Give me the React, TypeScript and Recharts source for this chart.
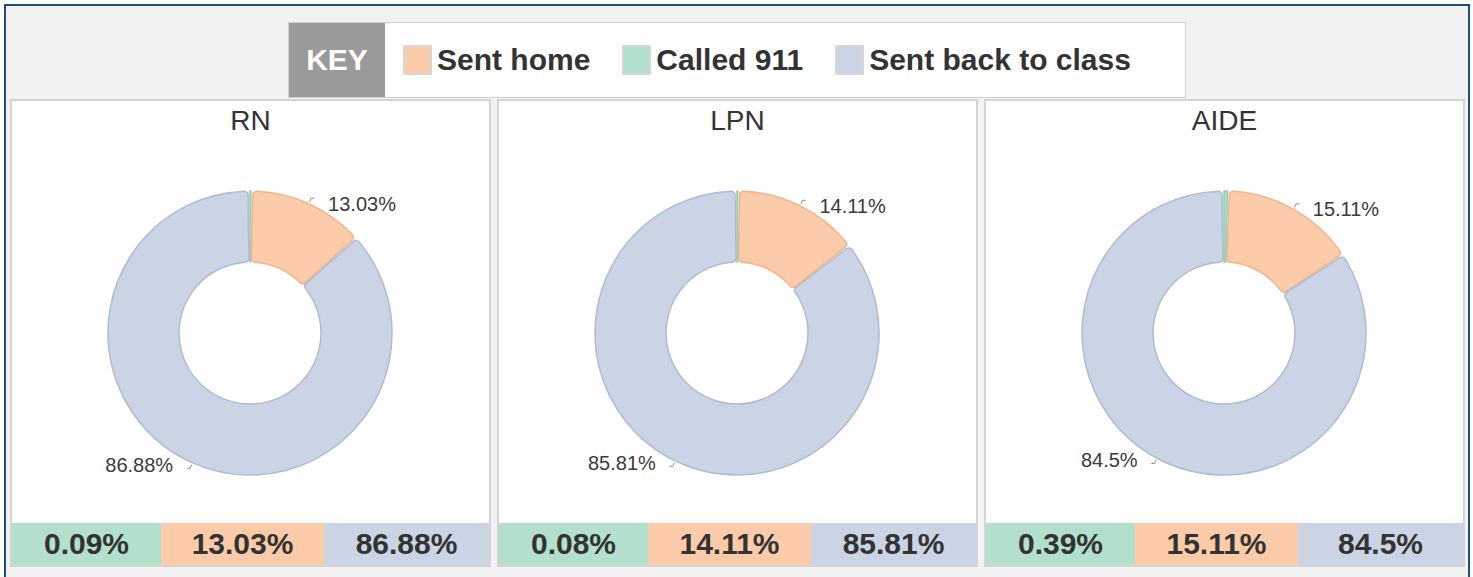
import React from 'react';
import { PieChart, Pie, Cell } from 'recharts';

// Data (percent of visits)
const GROUPS = ['RN', 'LPN', 'AIDE'];
const KEY_LABELS = ['Sent home', 'Called 911', 'Sent back to class'];
const CALLED_911 = [0.09, 0.08, 0.39];
const SENT_HOME = [13.03, 14.11, 15.11];
const SENT_BACK = [86.88, 85.81, 84.5];

// Colours
const GREEN = '#B2E0CC';
const GREEN_LINE = '#93CDB4';
const ORANGE = '#FCCBA9';
const ORANGE_LINE = '#F0B48A';
const BLUE = '#CAD4E5';
const BLUE_LINE = '#AEBBD3';
const INK = '#333333';
const FONT = '"Liberation Sans", Arial, sans-serif';

const KEY_COLORS: Record<string, string> = {
  'Sent home': ORANGE,
  'Called 911': GREEN,
  'Sent back to class': BLUE,
};

const PANEL_X = [10, 497, 984];
const PANEL_W = 481;
const COL_W = [149, 163, 165];

const OUTER = 142;
const INNER = 71;
const RAD = Math.PI / 180;

function renderLabel(props: any) {
  const { cx, cy, midAngle, outerRadius, value, index } = props;
  if (index === 0) return null; // no label on the tiny "Called 911" slice
  const cos = Math.cos(-midAngle * RAD);
  const sin = Math.sin(-midAngle * RAD);
  const x0 = cx + (outerRadius + 2) * cos;
  const y0 = cy + (outerRadius + 2) * sin;
  const x1 = cx + (outerRadius + 6) * cos;
  const y1 = cy + (outerRadius + 6) * sin;
  const right = cos >= 0;
  const x2 = x1 + (right ? 3 : -3);
  const tx = cx + (outerRadius + 1) * cos + (right ? 19 : -19);
  const ty = cy + (outerRadius + 1) * sin + 1;
  return (
    <g>
      <polyline points={`${x0},${y0} ${x1},${y1} ${x2},${y1}`} fill="none" stroke="#8c8c8c" strokeWidth={1} />
      <text
        x={tx}
        y={ty}
        textAnchor={right ? 'start' : 'end'}
        dominantBaseline="central"
        fontSize={20}
        fill="#3a3a3a"
        fontFamily={FONT}
      >
        {`${value}%`}
      </text>
    </g>
  );
}

function Panel({ i }: { i: number }) {
  const data = [
    { name: 'Called 911', value: CALLED_911[i], fill: GREEN, stroke: GREEN_LINE },
    { name: 'Sent home', value: SENT_HOME[i], fill: ORANGE, stroke: ORANGE_LINE },
    { name: 'Sent back to class', value: SENT_BACK[i], fill: BLUE, stroke: BLUE_LINE },
  ];
  const cells = [
    { v: CALLED_911[i], c: GREEN },
    { v: SENT_HOME[i], c: ORANGE },
    { v: SENT_BACK[i], c: BLUE },
  ];
  return (
    <div
      style={{
        position: 'absolute',
        left: PANEL_X[i],
        top: 99,
        width: PANEL_W,
        height: 468,
        boxSizing: 'border-box',
        border: '2px solid #d4d4d4',
        background: '#fff',
      }}
    >
      <div
        style={{
          position: 'absolute',
          left: 0,
          top: 4,
          width: '100%',
          textAlign: 'center',
          fontSize: 28,
          lineHeight: '32px',
          color: INK,
          fontFamily: FONT,
        }}
      >
        {GROUPS[i]}
      </div>
      <div style={{ position: 'absolute', left: 0, top: 0 }}>
        <PieChart width={477} height={421} margin={{ top: 0, right: 0, bottom: 0, left: 0 }}>
          <Pie
            data={data}
            dataKey="value"
            nameKey="name"
            cx={238}
            cy={232}
            innerRadius={INNER}
            outerRadius={OUTER}
            startAngle={90}
            endAngle={-270}
            paddingAngle={0.8}
            cornerRadius={4}
            label={renderLabel}
            labelLine={false}
            isAnimationActive={false}
          >
            {data.map((d) => (
              <Cell key={d.name} fill={d.fill} stroke={d.stroke} strokeWidth={1.5} />
            ))}
          </Pie>
        </PieChart>
      </div>
      <div style={{ position: 'absolute', left: 0, top: 422, height: 42, width: 477, display: 'flex' }}>
        {cells.map((c, k) => (
          <div
            key={k}
            style={{
              width: COL_W[k],
              height: 42,
              background: c.c,
              display: 'flex',
              alignItems: 'center',
              justifyContent: 'center',
              fontFamily: FONT,
              fontWeight: 'bold',
              fontSize: 30,
              color: INK,
            }}
          >
            {`${c.v}%`}
          </div>
        ))}
      </div>
    </div>
  );
}

export default function App() {
  return (
    <div
      style={{
        position: 'absolute',
        left: 0,
        top: 0,
        width: 1473,
        height: 577,
        background: '#fff',
        overflow: 'hidden',
      }}
    >
      <div
        style={{
          position: 'absolute',
          left: 4,
          top: 4,
          width: 1466,
          height: 600,
          boxSizing: 'border-box',
          border: '2px solid #1F4E79',
          background: '#F2F2F2',
        }}
      />
      {/* Key */}
      <div
        style={{
          position: 'absolute',
          left: 288,
          top: 22,
          width: 898,
          height: 76,
          boxSizing: 'border-box',
          border: '1px solid #d0d0d0',
          background: '#fff',
          display: 'flex',
          alignItems: 'stretch',
          fontFamily: FONT,
          fontWeight: 'bold',
          fontSize: 30,
          color: INK,
        }}
      >
        <div
          style={{
            width: 96,
            background: '#9A9A9A',
            color: '#fff',
            display: 'flex',
            alignItems: 'center',
            justifyContent: 'center',
          }}
        >
          KEY
        </div>
        <div style={{ display: 'flex', alignItems: 'center', paddingLeft: 18 }}>
          {KEY_LABELS.map((k) => (
            <div key={k} style={{ display: 'flex', alignItems: 'center', marginRight: 32 }}>
              <div
                style={{
                  width: 29,
                  height: 30,
                  boxSizing: 'border-box',
                  border: '2px solid #d6d6d6',
                  background: KEY_COLORS[k],
                  marginRight: 5,
                }}
              />
              <span>{k}</span>
            </div>
          ))}
        </div>
      </div>
      {GROUPS.map((g, i) => (
        <Panel key={g} i={i} />
      ))}
    </div>
  );
}
